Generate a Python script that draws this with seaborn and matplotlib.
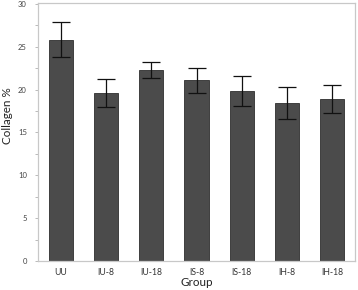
import matplotlib
matplotlib.use("Agg")
import matplotlib.pyplot as plt
import seaborn as sns
import pandas as pd
from matplotlib.ticker import MultipleLocator

groups = ["UU", "IU-8", "IU-18", "IS-8", "IS-18", "IH-8", "IH-18"]
collagen = [25.8, 19.6, 22.3, 21.1, 19.8, 18.4, 18.9]
sem = [2.05, 1.6, 0.9, 1.45, 1.75, 1.85, 1.65]

df = pd.DataFrame({"Group": groups, "Collagen": collagen, "err": sem})

sns.set_style("white")
plt.rcParams["font.family"] = ["Lato", "DejaVu Sans"]

fig = plt.figure(figsize=(3.58, 2.90), dpi=100)
ax = fig.add_axes([38/358, 29/290, 317/358, 258/290])

sns.barplot(data=df, x="Group", y="Collagen", color="#4b4b4b", saturation=1,
            width=0.53, edgecolor="#2e2e2e", linewidth=0.6, errorbar=None, ax=ax)
ax.errorbar(range(len(groups)), df["Collagen"], yerr=df["err"], fmt="none",
            ecolor="#111111", elinewidth=0.9, capsize=6.5, capthick=0.9)

ax.set_xlim(-0.5, len(groups) - 0.5)
ax.set_ylim(0, 30.1)
ax.yaxis.set_major_locator(MultipleLocator(5))
ax.yaxis.set_minor_locator(MultipleLocator(2.5))
for s in ax.spines.values():
    s.set_visible(True)
    s.set_color("#c8c8c8")
    s.set_linewidth(0.9)
ax.tick_params(axis="y", which="both", left=True, direction="out", length=2,
               width=0.6, color="#b0b0b0", labelsize=5.5, labelcolor="#444444", pad=6)
ax.tick_params(axis="x", bottom=False, labelsize=6.2, labelcolor="#333333", pad=1.5)
ax.set_xlabel("Group", fontsize=8.4, color="#222222", labelpad=0)
ax.set_ylabel("Collagen %", fontsize=8.4, color="#222222")
ax.yaxis.set_label_coords(-0.08, 0.565)

fig.savefig("out.png", dpi=100)
